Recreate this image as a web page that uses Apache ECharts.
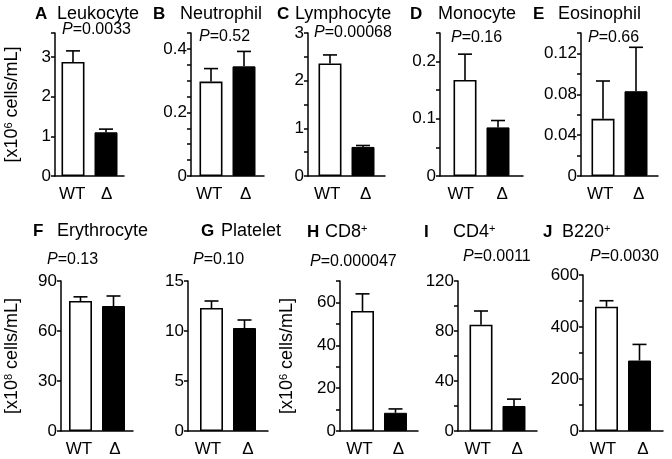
<!DOCTYPE html>
<html>
<head>
<meta charset="utf-8">
<script src="https://cdn.jsdelivr.net/npm/echarts@6/dist/echarts.min.js"></script>
<style>html,body{margin:0;padding:0;background:#fff}#c{width:672px;height:459px}</style>
</head>
<body>
<div id="c"></div>
<script>
// ---------- data ----------
const panelLetters = ['A','B','C','D','E','F','G','H','I','J'];
const panelNames = ['Leukocyte','Neutrophil','Lymphocyte','Monocyte','Eosinophil','Erythrocyte','Platelet','CD8','CD4','B220'];
const panelSup = ['','','','','','','','+','+','+'];
const pValues = ['0.0033','0.52','0.00068','0.16','0.66','0.13','0.10','0.000047','0.0011','0.0030'];
const categories = ['WT','Δ'];
const wtMean = [2.87, 0.297, 2.36, 0.168, 0.056, 78, 12.3, 56, 85, 478];
const wtSem  = [0.28, 0.041, 0.18, 0.045, 0.037, 2.5, 0.7, 8, 11, 23];
const koMean = [1.10, 0.345, 0.61, 0.085, 0.083, 75, 10.3, 8.5, 20, 271];
const koSem  = [0.08, 0.047, 0.03, 0.012, 0.043, 6, 0.8, 1.8, 5.5, 62];
const axisMax = [3.6, 0.45, 3, 0.25, 0.14, 90, 15, 70, 120, 600];
const tickStep = [1, 0.05, 0.5, 0.05, 0.02, 30, 5, 10, 20, 100];
const labelStep = [1, 0.2, 1, 0.1, 0.04, 30, 5, 20, 40, 200];
const yNameExp = ['6','','','','','8','','6','',''];

// ---------- layout ----------
const gridLeft  = [55, 191, 308, 440, 581, 61, 188, 340, 458, 583];
const gridWidth = [69, 73, 77, 83, 77, 72, 80, 78, 79, 80];
const gridTop   = [33, 33, 33, 33, 33, 281, 281, 281, 281, 275];
const gridBot   = [176, 176, 176, 176, 176, 431, 431, 431, 431, 431];
const nameGaps  = [34, 0, 0, 0, 0, 40, 0, 44, 0, 0];
const letterX = [35, 153, 277, 410, 533, 33, 201, 307, 424, 543];
const nameX   = [57, 180, 295, 438, 558, 57, 221, 325, 453, 562];
const titleY  = [14, 14, 14, 14, 14, 231, 231, 232, 232, 232];
const pX = [62, 199, 314, 451, 588, 47, 193, 310, 463, 590];
const pY = [30, 37, 33, 38, 38, 260, 260, 262, 257, 257];

const FONT = '"Liberation Sans", Arial, Helvetica, sans-serif';
const BAR_W = 23;
const TARGET_SPACING = 33;

const grids = [], xAxes = [], yAxes = [], series = [], graphics = [];

panelLetters.forEach((L, i) => {
  grids.push({left: gridLeft[i], top: gridTop[i], width: gridWidth[i],
              height: gridBot[i] - gridTop[i], outerBoundsMode: 'none', containLabel: false});
  xAxes.push({
    type: 'category', gridIndex: i, data: categories,
    axisLine: {show: true, lineStyle: {color: '#000', width: 1.5}},
    axisTick: {show: false},
    axisLabel: {color: '#000', fontFamily: FONT, fontSize: 17, margin: 10}
  });
  const step = labelStep[i];
  const y = {
    type: 'value', gridIndex: i, min: 0, max: axisMax[i], interval: tickStep[i],
    splitLine: {show: false},
    axisLine: {show: true, lineStyle: {color: '#000', width: 1.5}},
    axisTick: {show: true, length: 4, lineStyle: {color: '#000', width: 1.5}},
    axisLabel: {color: '#000', fontFamily: FONT, fontSize: 17, margin: 4,
      formatter: v => {
        const r = v / step;
        return Math.abs(r - Math.round(r)) < 1e-6 ? String(+v.toFixed(4)) : '';
      }}
  };
  if (yNameExp[i]) {
    y.name = '{a|[x10}{s|' + yNameExp[i] + '}{a| cells/mL]}';
    y.nameLocation = 'middle';
    y.nameRotate = 90;
    y.nameGap = nameGaps[i];
    y.nameTextStyle = {color: '#000', fontFamily: FONT, rich: {
      a: {fontFamily: FONT, fontSize: 18, color: '#000'},
      s: {fontFamily: FONT, fontSize: 11, color: '#000', verticalAlign: 'top'}
    }};
  }
  yAxes.push(y);

  // inward shift of the two bars so that they sit closer than the band width
  const band = gridWidth[i] / 2;
  const shift = (band - TARGET_SPACING) / 2;
  const gapPx = 2 * shift - BAR_W;
  const barGap = (gapPx / BAR_W * 100).toFixed(1) + '%';

  series.push({
    type: 'bar', name: categories[1], xAxisIndex: i, yAxisIndex: i,
    data: ['-', koMean[i]], barWidth: BAR_W, barGap: barGap,
    itemStyle: {color: '#000', borderColor: '#000', borderWidth: 1}, silent: true, animation: false
  });
  series.push({
    type: 'bar', name: categories[0], xAxisIndex: i, yAxisIndex: i,
    data: [wtMean[i], '-'], barWidth: BAR_W, barGap: barGap,
    itemStyle: {color: '#fff', borderColor: '#000', borderWidth: 1.6}, silent: true, animation: false
  });
  series.push({
    type: 'custom', xAxisIndex: i, yAxisIndex: i, silent: true, animation: false, z: 5,
    data: [[0, wtMean[i], wtMean[i] + wtSem[i]], [1, koMean[i], koMean[i] + koSem[i]]],
    encode: {x: 0, y: [1, 2]},
    renderItem: (params, api) => {
      const idx = api.value(0);
      const b = api.coord([idx, api.value(1)]);
      const t = api.coord([idx, api.value(2)]);
      const x = b[0] + (idx === 0 ? shift : -shift);
      const st = {stroke: '#000', lineWidth: 1.6};
      return {type: 'group', children: [
        {type: 'line', shape: {x1: x, y1: b[1], x2: x, y2: t[1]}, style: st},
        {type: 'line', shape: {x1: x - 7, y1: t[1], x2: x + 7, y2: t[1]}, style: st}
      ]};
    }
  });

  graphics.push({type: 'text', x: letterX[i], y: titleY[i], style: {
    text: L, font: 'bold 17px ' + FONT, fill: '#000', verticalAlign: 'middle'}});
  graphics.push({type: 'text', x: nameX[i], y: titleY[i], style: {
    text: '{n|' + panelNames[i] + '}' + (panelSup[i] ? '{s|' + panelSup[i] + '}' : ''),
    verticalAlign: 'middle', fill: '#000',
    rich: {n: {fontFamily: FONT, fontSize: 18, fill: '#000'},
           s: {fontFamily: FONT, fontSize: 11, fill: '#000', verticalAlign: 'top'}}}});
  graphics.push({type: 'text', x: pX[i], y: pY[i], style: {
    text: '{i|P}{n|=' + pValues[i] + '}', verticalAlign: 'middle', fill: '#000',
    rich: {i: {fontFamily: FONT, fontSize: 16, fontStyle: 'italic', fill: '#000'},
           n: {fontFamily: FONT, fontSize: 16, fill: '#000'}}}});
});

const chart = echarts.init(document.getElementById('c'), null, {renderer: 'canvas'});
chart.setOption({
  animation: false,
  backgroundColor: '#fff',
  grid: grids, xAxis: xAxes, yAxis: yAxes, series: series, graphic: graphics
});
</script>
</body>
</html>
